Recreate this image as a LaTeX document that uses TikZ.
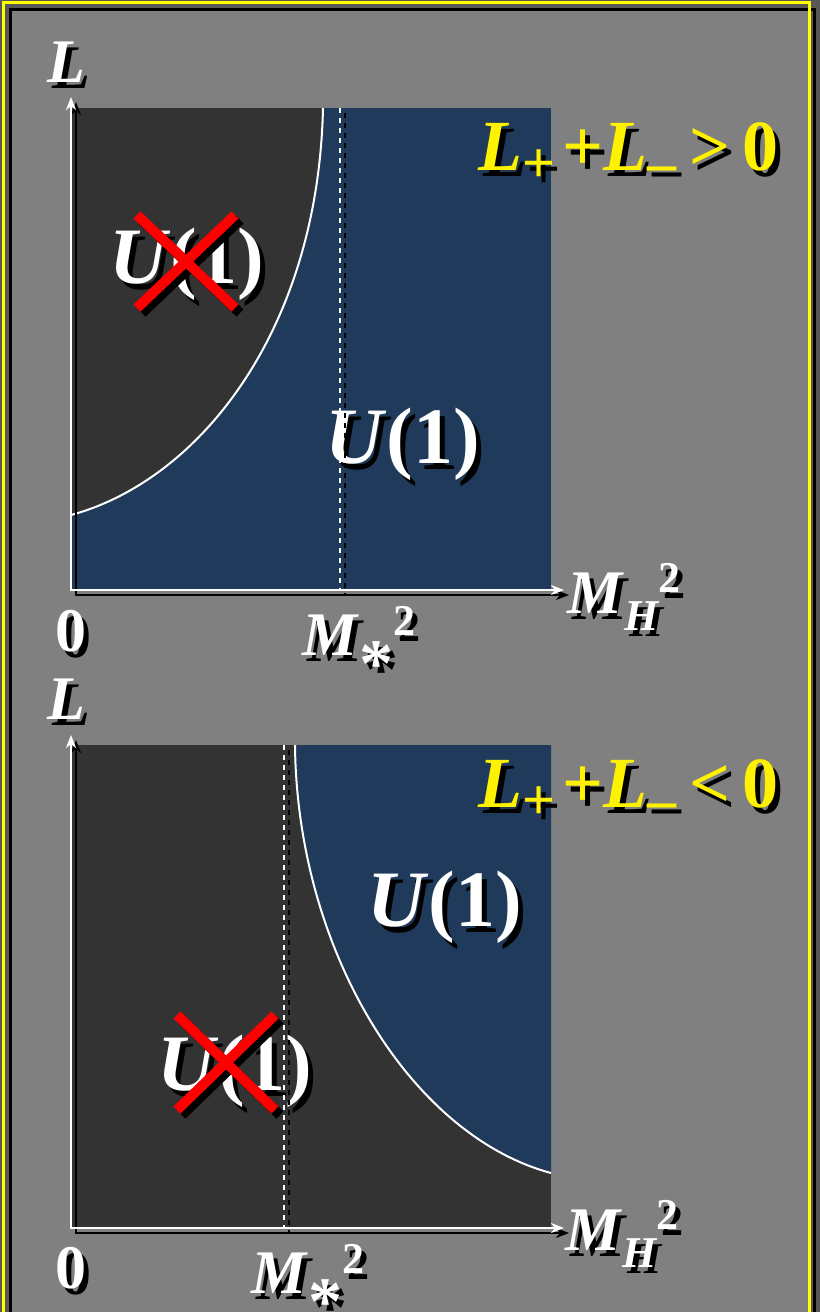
\documentclass[tikz,border=0pt]{standalone}
\usepackage{amsmath}
\usepackage{fontspec}
\setmainfont{Liberation Serif}
\usepackage{tikz}
\usetikzlibrary{arrows.meta}
\definecolor{SlideGray}{HTML}{808080}
\definecolor{SlideDark}{HTML}{585858}
\definecolor{PhaseDark}{HTML}{333333}
\definecolor{PhaseNavy}{HTML}{1F3A5A}
\definecolor{FrameYellow}{HTML}{FFFF00}
\newcommand{\dropshadow}[1]{\makebox[0pt][l]{\hspace{5pt}\raisebox{-6pt}{\color{black}#1}}#1}
\newcommand{\subsz}[2]{\raisebox{#1}{\fontsize{44}{44}\selectfont #2}}
\newcommand{\condsub}[1]{\raisebox{-12pt}{\fontsize{58}{58}\selectfont #1}}

\begin{document}
\begin{tikzpicture}[
    x=1pt, y=-1pt,
    axis/.style={{Stealth[length=13pt,width=10pt,inset=4pt]}-{Stealth[length=13pt,width=10pt,inset=4pt]}, line width=2.5pt, draw=white},
    shadow/.style={transform canvas={shift={(5pt,-5pt)}}, draw=black},
    boundary/.style={draw=white, line width=2pt},
    threshold/.style={draw=white, line width=2.4pt, dash pattern=on 5pt off 5pt},
    cross/.style={draw=red, line width=10pt},
    axlabel/.style={text=white, font=\bfseries\fontsize{62}{70}\selectfont, inner sep=0pt},
    cond/.style={text=yellow, font=\bfseries\fontsize{72}{80}\selectfont, inner sep=0pt},
    phase/.style={text=white, font=\bfseries\fontsize{80}{90}\selectfont, inner sep=0pt}
  ]
  \useasboundingbox (0,0) rectangle (820,1312);
  % slide frame
  \fill[SlideDark] (0,0) rectangle (820,1312);
  \draw[black, line width=3pt] (10.5,9.5) rectangle (814.5,1340);
  \fill[SlideGray] (12,11) rectangle (808,1312);
  \draw[FrameYellow, line width=3pt] (3.5,2.5) rectangle (809.5,1340);

  % upper panel: L_+ + L_- > 0
  \fill[PhaseNavy] (71,108) rectangle (551,590);
  \fill[PhaseDark] (71,108) -- (323,108) .. controls (318,330) and (200,480) .. (71,515) -- cycle;
  \draw[boundary] (71,515) .. controls (200,480) and (318,330) .. (323,108);

  \coordinate (o1) at (71,590);
  \coordinate (ytop1) at (71,97);
  \coordinate (xend1) at (564,590);
  \coordinate (ms1top) at (340,108);
  \coordinate (ms1) at (340,590);

  \node[axlabel, anchor=base] (Lax1) at (66,82) {\dropshadow{\textit{L}}};
  \node[cond, anchor=base east] (cond1) at (779,170)
    {\dropshadow{\textit{L}\condsub{+}\hspace{7pt}+\textit{L}\condsub{–}\hspace{13pt}>\hspace{12pt}0}};
  \node[phase, anchor=base] (uon1) at (403,463) {\dropshadow{\textit{U}(1)}};
  \node[phase, anchor=base] (uoff1) at (187,283) {\dropshadow{\textit{U}(1)}};
  \node[axlabel, anchor=base] (zero1) at (71,651) {\dropshadow{0}};
  \node[axlabel, anchor=base west] (ms1lbl) at (302,655)
    {\dropshadow{\textit{M}\raisebox{-31pt}{\fontsize{68}{68}\selectfont *}\subsz{20pt}{2}}};
  \node[axlabel, anchor=base west] (mh1lbl) at (567,613)
    {\dropshadow{\textit{M}\subsz{-17pt}{\itshape H}\subsz{21pt}{2}}};

  \draw[cross, shadow] (137,215) -- (235,308) (235,215) -- (137,308);
  \draw[cross] (137,215) -- (235,308) (235,215) -- (137,308);

  \draw[threshold, shadow] (ms1top) -- (ms1);
  \draw[threshold] (ms1top) -- (ms1);
  \draw[axis, shadow] (ytop1) -- (o1) -- (xend1);
  \draw[axis] (ytop1) -- (o1) -- (xend1);

  % lower panel: L_+ + L_- < 0
  \fill[PhaseDark] (71,745) rectangle (551,1228);
  \fill[PhaseNavy] (295,745) -- (551,745) -- (551,1173) .. controls (410,1135) and (297,950) .. (295,745) -- cycle;
  \draw[boundary] (295,745) .. controls (297,950) and (410,1135) .. (551,1173);

  \coordinate (o2) at (71,1228);
  \coordinate (ytop2) at (71,735);
  \coordinate (xend2) at (564,1228);
  \coordinate (ms2top) at (284,745);
  \coordinate (ms2) at (284,1228);

  \node[axlabel, anchor=base] (Lax2) at (66,719) {\dropshadow{\textit{L}}};
  \node[cond, anchor=base east] (cond2) at (779,807)
    {\dropshadow{\textit{L}\condsub{+}\hspace{7pt}+\textit{L}\condsub{–}\hspace{13pt}<\hspace{12pt}0}};
  \node[phase, anchor=base] (uon2) at (445,926) {\dropshadow{\textit{U}(1)}};
  \node[phase, anchor=base] (uoff2) at (235,1090) {\dropshadow{\textit{U}(1)}};
  \node[axlabel, anchor=base] (zero2) at (71,1288) {\dropshadow{0}};
  \node[axlabel, anchor=base west] (ms2lbl) at (251,1293)
    {\dropshadow{\textit{M}\raisebox{-31pt}{\fontsize{68}{68}\selectfont *}\subsz{20pt}{2}}};
  \node[axlabel, anchor=base west] (mh2lbl) at (565,1250)
    {\dropshadow{\textit{M}\subsz{-17pt}{\itshape H}\subsz{21pt}{2}}};

  \draw[cross, shadow] (177,1015) -- (275,1110) (275,1015) -- (177,1110);
  \draw[cross] (177,1015) -- (275,1110) (275,1015) -- (177,1110);

  \draw[threshold, shadow] (ms2top) -- (ms2);
  \draw[threshold] (ms2top) -- (ms2);
  \draw[axis, shadow] (ytop2) -- (o2) -- (xend2);
  \draw[axis] (ytop2) -- (o2) -- (xend2);
\end{tikzpicture}
\end{document}
